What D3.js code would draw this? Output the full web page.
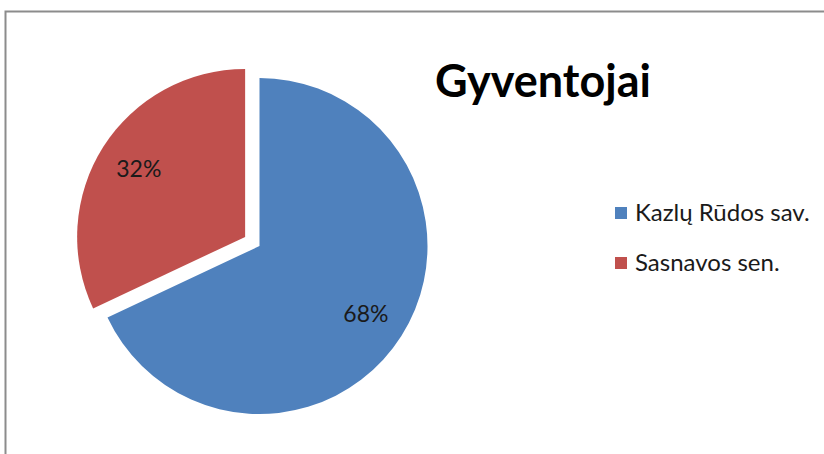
<!DOCTYPE html>
<html>
<head>
<meta charset="utf-8">
<script src="https://cdn.jsdelivr.net/npm/d3@7"></script>
<style>
	html, body { margin: 0; padding: 0; background: #fff; }
	svg { display: block; }
</style>
</head>
<body>
<svg id="chart" width="824" height="454"></svg>
<script>
	'use strict';

	var categories = ['Kazlų Rūdos sav.', 'Sasnavos sen.'];
	var values = [68, 32];
	var colors = ['#4f81bd', '#c0504d'];
	var title = 'Gyventojai';

	var width = 824,
		height = 454,
		radius = 168,
		cx = 259.5,
		cy = 246,
		explode = 17,
		font = 'Lato, "Open Sans", sans-serif';

	var svg = d3.select('#chart');

	// frame (runs off the right and bottom edge)
	svg.append('rect')
		.attr('x', 5.5)
		.attr('y', 11.5)
		.attr('width', width + 20)
		.attr('height', height + 20)
		.attr('fill', '#fff')
		.attr('stroke', '#8c8c8c')
		.attr('stroke-width', 2);

	var total = d3.sum(values);
	var pie = d3.pie().sort(null).value(function(d) { return d; });
	var arc = d3.arc().innerRadius(0).outerRadius(radius);
	var labelArc = d3.arc().innerRadius(radius * 0.75).outerRadius(radius * 0.75);

	var slices = svg.append('g')
		.attr('transform', 'translate(' + cx + ',' + cy + ')')
		.selectAll('g')
		.data(pie(values))
		.enter()
		.append('g')
		.attr('transform', function(d, i) {
			if (i === 0) { return null; }
			var mid = (d.startAngle + d.endAngle) / 2;
			return 'translate(' + (Math.sin(mid) * explode) + ',' + (-Math.cos(mid) * explode) + ')';
		});

	slices.append('path')
		.attr('d', arc)
		.attr('fill', function(d, i) { return colors[i]; });

	slices.append('text')
		.attr('transform', function(d) {
			var c = labelArc.centroid(d);
			return 'translate(' + c[0] + ',' + c[1] + ')';
		})
		.attr('text-anchor', 'middle')
		.attr('dy', '0.35em')
		.attr('font-family', font)
		.attr('font-size', 23)
		.attr('fill', '#1a1a1a')
		.text(function(d) { return Math.round(d.value / total * 100) + '%'; });

	// title
	svg.append('text')
		.attr('x', 543)
		.attr('y', 97)
		.attr('text-anchor', 'middle')
		.attr('font-family', font)
		.attr('font-weight', 'bold')
		.attr('font-size', 45)
		.attr('fill', '#000')
		.text(title);

	// legend
	var legend = svg.append('g')
		.selectAll('g')
		.data(categories)
		.enter()
		.append('g')
		.attr('transform', function(d, i) {
			return 'translate(615,' + (207 + i * 50) + ')';
		});

	legend.append('rect')
		.attr('width', 12)
		.attr('height', 12)
		.attr('fill', function(d, i) { return colors[i]; });

	legend.append('text')
		.attr('x', 20)
		.attr('y', 6)
		.attr('dy', '0.35em')
		.attr('font-family', font)
		.attr('font-size', 24)
		.attr('fill', '#1a1a1a')
		.text(function(d) { return d; });
</script>
</body>
</html>
